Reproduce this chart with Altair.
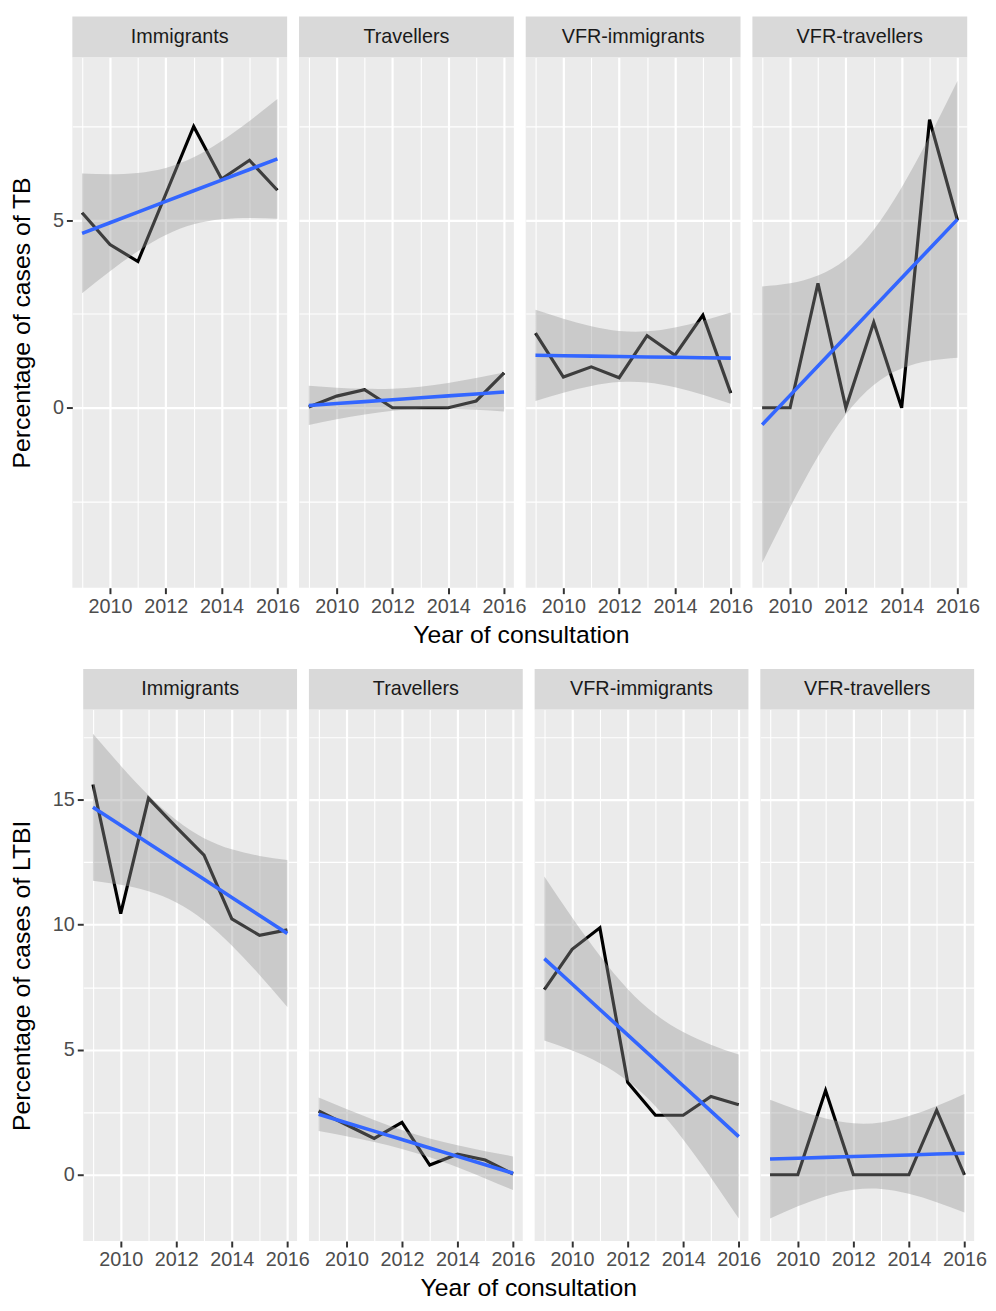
import altair as alt
import pandas as pd

FONT = "Liberation Sans"

YEARS = [2009, 2010, 2011, 2012, 2013, 2014, 2015, 2016]
GROUPS = ["Immigrants", "Travellers", "VFR-immigrants", "VFR-travellers"]

# Percentage of cases of TB
TB_IMMIGRANTS = [5.2, 4.35, 3.9, 5.7, 7.5, 6.1, 6.6, 5.8]
TB_TRAVELLERS = [0.02, 0.31, 0.48, 0.0, 0.0, 0.0, 0.18, 0.93]
TB_VFR_IMMIGRANTS = [1.99, 0.82, 1.09, 0.80, 1.92, 1.40, 2.47, 0.39]
TB_VFR_TRAVELLERS = [0.0, 0.0, 3.32, 0.0, 2.28, 0.0, 7.68, 5.0]

# Percentage of cases of LTBI
LTBI_IMMIGRANTS = [15.6, 10.44, 15.05, 13.9, 12.78, 10.23, 9.57, 9.79]
LTBI_TRAVELLERS = [2.55, 2.0, 1.45, 2.09, 0.39, 0.82, 0.59, 0.03]
LTBI_VFR_IMMIGRANTS = [7.4, 9.01, 9.87, 3.7, 2.38, 2.38, 3.13, 2.8]
LTBI_VFR_TRAVELLERS = [0.0, 0.0, 3.37, 0.0, 0.0, 0.0, 2.58, 0.0]

TB_TICKS = [-2.5, 0, 2.5, 5, 7.5]
LTBI_TICKS = [0, 2.5, 5, 7.5, 10, 12.5, 15, 17.5]

T_975_DF6 = 2.4469  # Student t quantile used by a 95% lm confidence band (n = 8)

STRIP_H = 41


def to_frame(series):
    rows = []
    for g, vals in zip(GROUPS, series):
        for y, v in zip(YEARS, vals):
            rows.append({"group": g, "year": y, "value": v})
    return pd.DataFrame(rows)


def cond(test, a, b):
    return {"condition": {"test": test, "value": a}, "value": b}


def make_row(series, ytitle, ydomain, yticks, panel_w, panel_h, lead, title_dx):
    df = to_frame(series)
    # invisible lead-in cell, shifts this row's first panel like ggplot does
    spacer = alt.Chart(pd.DataFrame({"group": [""]})).mark_text(opacity=0).encode(
        text="group:N").properties(width=lead, height=1)
    cols = [spacer]
    for i, g in enumerate(GROUPS):
        xaxis = alt.Axis(
            values=YEARS, format="d",
            labelExpr="datum.value % 2 === 0 ? datum.label : ''",
            domain=False, tickColor="#333333", tickWidth=2, tickSize=6,
            tickOpacity=cond("datum.value % 2 === 0", 1, 0),
            labelFontSize=20, labelColor="#4D4D4D", labelFont=FONT,
            labelPadding=3, labelFlush=False, labelOverlap=False,
            gridColor="white", gridOpacity=1,
            gridWidth=cond("datum.value % 2 === 0", 2.2, 1.1),
        )
        if i == 0:
            yaxis = alt.Axis(
                values=yticks,
                labelExpr="datum.value % 5 === 0 ? datum.label : ''",
                domain=False, tickColor="#333333", tickWidth=2, tickSize=6,
                tickOpacity=cond("datum.value % 5 === 0", 1, 0),
                labelFontSize=20, labelColor="#4D4D4D", labelFont=FONT,
                labelPadding=3, labelOverlap=False,
                titleFontSize=25, titleFont=FONT, titleFontWeight="normal",
                titleColor="black", titlePadding=18,
                gridColor="white", gridOpacity=1,
                gridWidth=cond("datum.value % 5 === 0", 2.2, 1.1),
            )
            ytl = ytitle
        else:
            yaxis = alt.Axis(
                values=yticks, labels=False, ticks=False, domain=False,
                gridColor="white", gridOpacity=1,
                gridWidth=cond("datum.value % 5 === 0", 2.2, 1.1),
            )
            ytl = None
        xscale = alt.Scale(domain=[2008.65, 2016.35], nice=False, zero=False)
        yscale = alt.Scale(domain=ydomain, nice=False, zero=False)
        X = alt.X("year:Q", scale=xscale, axis=xaxis, title=None)

        base = (
            alt.Chart(df)
            .transform_filter(alt.datum.group == g)
            .transform_joinaggregate(mx="mean(year)", my="mean(value)", n="count()")
            .transform_calculate(
                dx="datum.year - datum.mx",
                dxy="(datum.year - datum.mx) * (datum.value - datum.my)",
                dxx="pow(datum.year - datum.mx, 2)",
            )
            .transform_joinaggregate(sxy="sum(dxy)", sxx="sum(dxx)")
            .transform_calculate(fit="datum.my + datum.sxy / datum.sxx * datum.dx")
            .transform_calculate(r2="pow(datum.value - datum.fit, 2)")
            .transform_joinaggregate(sse="sum(r2)")
            .transform_calculate(
                se="sqrt(datum.sse / (datum.n - 2) * (1 / datum.n + datum.dxx / datum.sxx))")
            .transform_calculate(
                lo=f"datum.fit - {T_975_DF6} * datum.se",
                hi=f"datum.fit + {T_975_DF6} * datum.se",
            )
        )

        line = base.mark_line(color="black", strokeWidth=3.2).encode(
            x=X, y=alt.Y("value:Q", scale=yscale, axis=yaxis, title=ytl))
        band = base.mark_area(color="#999999", opacity=0.4,
                              interpolate="natural").encode(
            x=X, y=alt.Y("lo:Q", scale=yscale, axis=yaxis, title=ytl), y2="hi:Q")
        fit = base.mark_line(color="#3366FF", strokeWidth=3.6).encode(
            x=X, y=alt.Y("fit:Q", scale=yscale, axis=yaxis, title=ytl))

        # facet strip drawn just above the panel
        strip_df = pd.DataFrame({"group": [g]})
        strip_bg = alt.Chart(strip_df).mark_rect(color="#D9D9D9").encode(
            x=alt.value(0), x2=alt.value("width"),
            y=alt.value(-STRIP_H), y2=alt.value(0))
        strip_txt = alt.Chart(strip_df).mark_text(
            font=FONT, fontSize=20, color="#1A1A1A").encode(
            text="group:N", y=alt.value(-STRIP_H / 2))

        panel = alt.layer(line, band, fit, strip_bg, strip_txt).properties(
            width=panel_w, height=panel_h,
            view=alt.ViewBackground(fill="#EBEBEB", strokeWidth=0))
        cols.append(panel)
    return alt.hconcat(*cols, spacing=12, bounds="flush").properties(
        title=alt.TitleParams("Year of consultation", orient="bottom",
                              anchor="middle", fontSize=25, font=FONT,
                              fontWeight="normal", color="black", offset=7,
                              dx=title_dx)
    )


top = make_row([TB_IMMIGRANTS, TB_TRAVELLERS, TB_VFR_IMMIGRANTS, TB_VFR_TRAVELLERS],
               "Percentage of cases of TB", [-4.8, 9.35], TB_TICKS, 217, 536, 1, 27)
bottom = make_row([LTBI_IMMIGRANTS, LTBI_TRAVELLERS, LTBI_VFR_IMMIGRANTS, LTBI_VFR_TRAVELLERS],
                  "Percentage of cases of LTBI", [-2.65, 18.6], LTBI_TICKS, 216, 537, 12, 31)

chart = (
    alt.vconcat(top, bottom, spacing=21)
    .properties(padding={"left": 1, "top": 2, "right": 1, "bottom": 0})
    .configure(font=FONT)
    .configure_view(strokeWidth=0)
)

chart.save("out.html", embed_options={"renderer": "svg", "actions": False})
